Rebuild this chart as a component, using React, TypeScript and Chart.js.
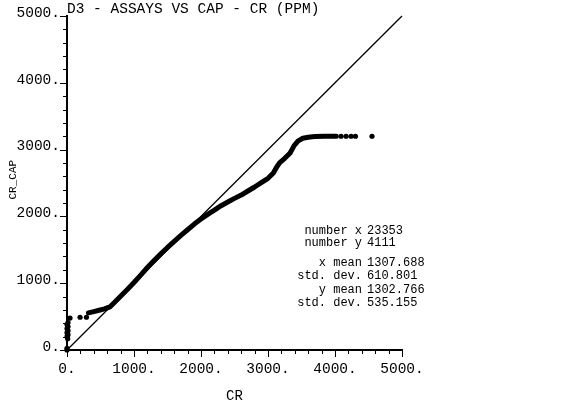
import React, { useEffect, useRef } from 'react';
import { Chart, registerables } from 'chart.js';

Chart.register(...registerables);

// ---------- data ----------
const titleText = 'D3 - ASSAYS VS CAP - CR (PPM)';
const xAxisTitle = 'CR';
const yAxisTitle = ' CR_CAP';
const tickValues = [0, 1000, 2000, 3000, 4000, 5000];
const tickLabels = ['0.', '1000.', '2000.', '3000.', '4000.', '5000.'];
const minorStep = 200;

// continuous part of the quantile curve (CR vs CR_CAP)
const curveX = [320, 400, 480, 560, 640, 700, 800, 900, 1000, 1100, 1200, 1300, 1400, 1500, 1600, 1700, 1800, 1900, 2000, 2100, 2200, 2300, 2400, 2500, 2600, 2700, 2800, 2900, 3000, 3080, 3130, 3180, 3250, 3330, 3390, 3450, 3520, 3600, 3700, 3850, 4020];
const curveY = [555, 575, 595, 615, 645, 705, 805, 905, 1010, 1120, 1235, 1340, 1440, 1535, 1625, 1715, 1800, 1885, 1960, 2030, 2095, 2160, 2215, 2270, 2320, 2380, 2440, 2505, 2570, 2650, 2740, 2810, 2870, 2950, 3060, 3130, 3170, 3185, 3195, 3198, 3200];

// isolated quantile points
const dotX = [0, 0, 10, 0, 15, 0, 15, 0, 15, 0, 15, 45, 195, 290, 4090, 4165, 4240, 4305, 4552];
const dotY = [0, 25, 170, 200, 230, 260, 290, 320, 350, 380, 410, 478, 490, 490, 3200, 3200, 3200, 3200, 3200];

// 1:1 reference line
const diagX = [0, 5000];
const diagY = [0, 5000];

const statLabels = ['number x', 'number y', 'x mean', 'std. dev.', 'y mean', 'std. dev.'];
const statValues = ['23353', '4111', '1307.688', '610.801', '1302.766', '535.155'];

// ---------- chart ----------
const FONT = "'Liberation Mono', monospace";

const ticksAndStats = {
  id: 'ticksAndStats',
  afterDraw(chart: any) {
    const { ctx } = chart;
    const xs = chart.scales.x;
    const ys = chart.scales.y;
    ctx.save();
    ctx.strokeStyle = '#000';
    ctx.lineWidth = 1;
    ctx.beginPath();
    for (let v = 0; v <= 5000; v += minorStep) {
      const major = v % 1000 === 0;
      const len = major ? 7 : 4;
      const px = Math.round(xs.getPixelForValue(v)) + 0.5;
      ctx.moveTo(px, ys.bottom);
      ctx.lineTo(px, ys.bottom + len);
      const py = Math.round(ys.getPixelForValue(v)) + 0.5;
      ctx.moveTo(xs.left, py);
      ctx.lineTo(xs.left - len, py);
    }
    ctx.stroke();

    ctx.fillStyle = '#000';
    ctx.font = `12px ${FONT}`;
    ctx.textBaseline = 'middle';
    const lineYs = [231, 243, 263, 276, 290, 303];
    statLabels.forEach((lab, i) => {
      ctx.textAlign = 'right';
      ctx.fillText(lab, 362, lineYs[i]);
      ctx.textAlign = 'left';
      ctx.fillText(statValues[i], 367, lineYs[i]);
    });
    ctx.restore();
  },
};

export default function App() {
  const ref = useRef<HTMLCanvasElement | null>(null);

  useEffect(() => {
    if (!ref.current) return;
    const tickFont = { family: FONT, size: 14.5, weight: 'normal' as const };
    const chart = new Chart(ref.current, {
      type: 'scatter',
      data: {
        datasets: [
          {
            data: diagX.map((x, i) => ({ x, y: diagY[i] })),
            showLine: true,
            borderColor: '#000',
            borderWidth: 1.3,
            pointRadius: 0,
            clip: false,
          } as any,
          {
            data: curveX.map((x, i) => ({ x, y: curveY[i] })),
            showLine: true,
            borderColor: '#000',
            borderWidth: 5,
            borderCapStyle: 'round',
            borderJoinStyle: 'round',
            pointRadius: 0,
            clip: false,
          } as any,
          {
            data: dotX.map((x, i) => ({ x, y: dotY[i] })),
            showLine: false,
            pointRadius: 2.6,
            pointBackgroundColor: '#000',
            pointBorderWidth: 0,
            clip: false,
          } as any,
        ],
      },
      options: {
        animation: false,
        responsive: false,
        devicePixelRatio: 1,
        events: [],
        layout: { padding: { left: 0, top: 0, right: 168, bottom: 0 } },
        plugins: {
          legend: { display: false },
          tooltip: { enabled: false },
          title: {
            display: true,
            text: titleText,
            align: 'start',
            fullSize: false,
            color: '#000',
            font: { family: FONT, size: 14.5, weight: 'normal', lineHeight: '14px' },
            padding: { top: 2, bottom: 0 },
          },
        },
        scales: {
          x: {
            type: 'linear',
            min: 0,
            max: 5000,
            afterFit: (s: any) => { s.height = 60; },
            ticks: {
              stepSize: 1000,
              autoSkip: false,
              maxRotation: 0,
              color: '#000',
              font: tickFont,
              padding: 10,
              callback: (v: any) => tickLabels[tickValues.indexOf(Number(v))] ?? '',
            },
            grid: { display: false, drawTicks: false },
            border: { display: true, color: '#000', width: 2 },
            title: {
              display: true,
              text: xAxisTitle,
              color: '#000',
              font: { family: FONT, size: 14, weight: 'normal' },
              padding: { top: 0, bottom: 5 },
            },
          },
          y: {
            type: 'linear',
            min: 0,
            max: 5000,
            afterFit: (s: any) => { s.width = 67; },
            ticks: {
              stepSize: 1000,
              autoSkip: false,
              color: '#000',
              font: tickFont,
              padding: 7,
              labelOffset: -3,
              callback: (v: any) => tickLabels[tickValues.indexOf(Number(v))] ?? '',
            },
            grid: { display: false, drawTicks: false },
            border: { display: true, color: '#000', width: 2 },
            title: {
              display: true,
              text: yAxisTitle,
              color: '#000',
              font: { family: FONT, size: 11, weight: 'normal' },
              padding: { top: 6.5, bottom: 0 },
            },
          },
        },
      } as any,
      plugins: [ticksAndStats],
    });
    return () => chart.destroy();
  }, []);

  return (
    <div style={{ position: 'absolute', left: 0, top: 0, width: 570, height: 410, background: '#fff' }}>
      <canvas ref={ref} width={570} height={410} />
    </div>
  );
}
